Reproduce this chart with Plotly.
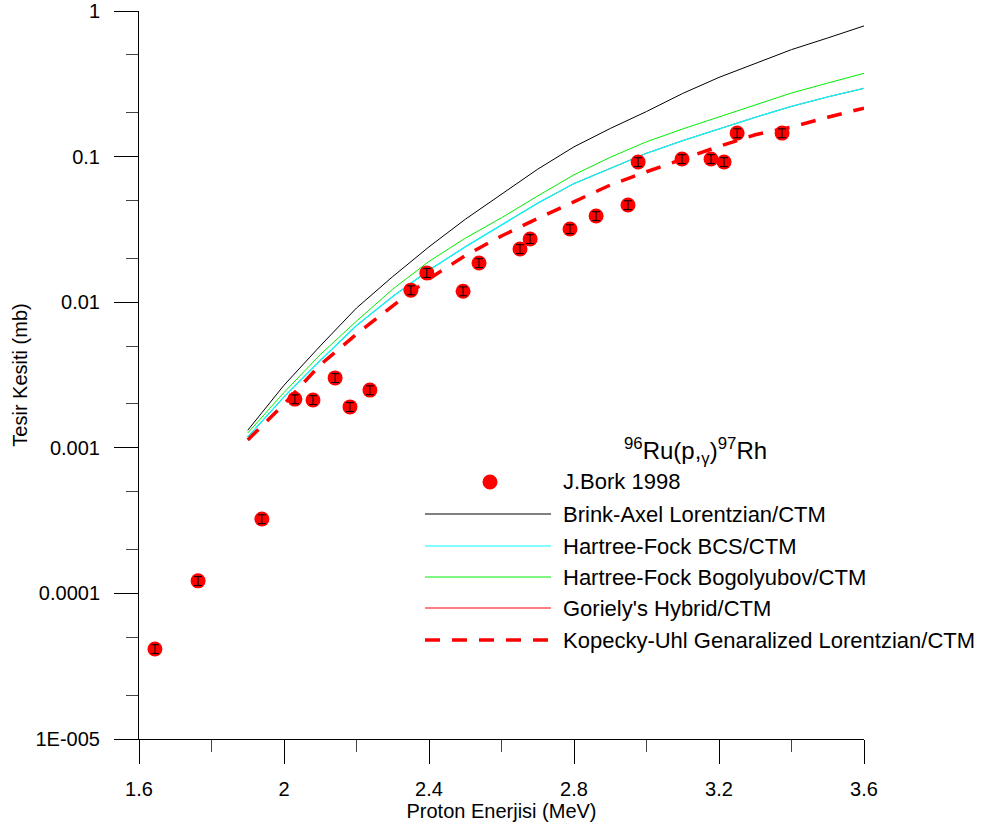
import plotly.graph_objects as go

# ---------------- data ----------------
exp_E = [1.644, 1.763, 1.939, 2.030, 2.080, 2.141, 2.182, 2.237, 2.350, 2.394,
         2.494, 2.538, 2.651, 2.679, 2.789, 2.861, 2.949, 2.977, 3.098, 3.178,
         3.214, 3.250, 3.374]
exp_sigma = [4.15e-5, 1.22e-4, 3.24e-4, 2.16e-3, 2.13e-3, 3.02e-3, 1.91e-3, 2.49e-3,
             0.0121, 0.0159, 0.0119, 0.0186, 0.0232, 0.0272, 0.0318, 0.0391,
             0.0465, 0.0918, 0.0963, 0.0963, 0.0918, 0.145, 0.145]
exp_err_pct = 7

calc_E = [1.9, 2.0, 2.1, 2.2, 2.3, 2.4, 2.5, 2.6, 2.7, 2.8, 2.9, 3.0, 3.1, 3.2,
          3.3, 3.4, 3.5, 3.6]
brink_axel = [1.32e-3, 2.69e-3, 5.01e-3, 9.12e-3, 0.0150, 0.0240, 0.0371, 0.0553,
              0.0820, 0.1167, 0.156, 0.204, 0.2716, 0.350, 0.436, 0.543, 0.653, 0.790]
hf_bcs = [1.186e-3, 2.239e-3, 3.981e-3, 6.92e-3, 0.01096, 0.0166, 0.0240, 0.0339,
          0.0479, 0.0653, 0.0826, 0.1054, 0.1288, 0.1556, 0.1862, 0.2213, 0.2570, 0.2944]
hf_bogolyubov = [1.265e-3, 2.399e-3, 4.365e-3, 7.41e-3, 0.0123, 0.01905, 0.0275, 0.0380,
                 0.0537, 0.0750, 0.0989, 0.1265, 0.1549, 0.1871, 0.2265, 0.2735, 0.3199, 0.3733]
# Goriely's curve is not visible in the picture: it lies under the HF-BCS curve
goriely_hybrid = [1.186e-3, 2.239e-3, 3.981e-3, 6.92e-3, 0.01096, 0.0166, 0.0240, 0.0339,
                  0.0479, 0.0653, 0.0826, 0.1054, 0.1288, 0.1556, 0.1862, 0.2213, 0.2570, 0.2944]
kopecky_uhl = [1.132e-3, 1.995e-3, 3.715e-3, 6.03e-3, 9.44e-3, 0.01445, 0.0209, 0.0285,
               0.0376, 0.0490, 0.0638, 0.0787, 0.0966, 0.1175, 0.1413, 0.1596, 0.1862, 0.2153]

y_tickvals = [1e-5, 1e-4, 1e-3, 1e-2, 1e-1, 1]
y_ticktext = ["1E-005", "0.0001", "0.001", "0.01", "0.1", "1"]
x_tickvals = [1.6, 2.0, 2.4, 2.8, 3.2, 3.6]
x_ticktext = ["1.6", "2", "2.4", "2.8", "3.2", "3.6"]
x_minor = [1.8, 2.2, 2.6, 3.0, 3.4]

legend_title = "<sup>96</sup>Ru(p,<sub>γ</sub>)<sup>97</sup>Rh"
names = ["J.Bork 1998", "Brink-Axel Lorentzian/CTM", "Hartree-Fock BCS/CTM",
         "Hartree-Fock Bogolyubov/CTM", "Goriely's Hybrid/CTM",
         "Kopecky-Uhl Genaralized Lorentzian/CTM"]

FONT = "Arial, Liberation Sans, sans-serif"
DASH = "15px,12px"

fig = go.Figure()

fig.add_trace(go.Scatter(x=calc_E, y=goriely_hybrid, mode="lines", name=names[4],
                         line=dict(color="#ff0000", width=1)))
fig.add_trace(go.Scatter(x=calc_E, y=brink_axel, mode="lines", name=names[1],
                         line=dict(color="#000000", width=1)))
fig.add_trace(go.Scatter(x=calc_E, y=hf_bogolyubov, mode="lines", name=names[3],
                         line=dict(color="#00ee00", width=1)))
fig.add_trace(go.Scatter(x=calc_E, y=hf_bcs, mode="lines", name=names[2],
                         line=dict(color="#00ffff", width=1.3)))
fig.add_trace(go.Scatter(x=calc_E, y=kopecky_uhl, mode="lines", name=names[5],
                         line=dict(color="#ff0000", width=3.5, dash=DASH)))
fig.add_trace(go.Scatter(x=exp_E, y=exp_sigma, mode="markers", name=names[0],
                         marker=dict(color="#ff0000", size=15, line=dict(width=0))))
# error bars drawn on top of the red markers
fig.add_trace(go.Scatter(x=exp_E, y=exp_sigma, mode="markers", name=names[0] + " err",
                         marker=dict(color="rgba(0,0,0,0)", size=1),
                         error_y=dict(type="percent", value=exp_err_pct, color="#000000",
                                      thickness=1, width=4)))

# ---------- custom legend (paper coords) ----------
def px2paper_x(px):
    return (px - 139) / 725.0

def px2paper_y(py):
    return (739 - py) / 728.0

rows_py = [482, 514, 546, 577, 608, 640]
line_styles = [None,
               dict(color="#000000", width=1),
               dict(color="#00ffff", width=1),
               dict(color="#00ee00", width=1),
               dict(color="#ff0000", width=1),
               dict(color="#ff0000", width=3.5, dash=DASH)]

shapes = []
annotations = []
for i, (nm, py) in enumerate(zip(names, rows_py)):
    yp = px2paper_y(py)
    if i == 0:
        shapes.append(dict(type="circle", xref="paper", yref="paper",
                           xsizemode="pixel", ysizemode="pixel",
                           xanchor=px2paper_x(490), yanchor=yp,
                           x0=-7.5, x1=7.5, y0=-7.5, y1=7.5,
                           fillcolor="#ff0000", line=dict(width=0)))
    else:
        shapes.append(dict(type="line", xref="paper", yref="paper",
                           x0=px2paper_x(425), x1=px2paper_x(551), y0=yp, y1=yp,
                           line=line_styles[i]))
    annotations.append(dict(text=nm, xref="paper", yref="paper",
                            x=px2paper_x(561), y=yp, xanchor="left", yanchor="middle",
                            showarrow=False, font=dict(family=FONT, size=22, color="#000")))

annotations.append(dict(text=legend_title, xref="paper", yref="paper",
                        x=px2paper_x(695), y=px2paper_y(451), xanchor="center",
                        yanchor="middle", showarrow=False,
                        font=dict(family=FONT, size=24, color="#000")))

fig.update_layout(
    width=982, height=827,
    margin=dict(l=139, r=118, t=11, b=88, autoexpand=False),
    paper_bgcolor="white", plot_bgcolor="white",
    showlegend=False,
    font=dict(family=FONT, size=20, color="#000"),
    shapes=shapes, annotations=annotations,
    xaxis=dict(range=[1.6, 3.6], tickvals=x_tickvals, ticktext=x_ticktext,
               automargin=False,
               showgrid=False, zeroline=False, showline=True, linecolor="#000",
               linewidth=1, ticks="outside", ticklen=24, tickcolor="#000",
               ticklabelstandoff=8,
               minor=dict(tickvals=x_minor, ticks="outside",
                          ticklen=12, tickcolor="#444", showgrid=False),
               title=dict(text="Proton Enerjisi (MeV)", standoff=0,
                          font=dict(size=20))),
    yaxis=dict(type="log", range=[-5, 0], tickvals=y_tickvals, ticktext=y_ticktext,
               automargin=False,
               showgrid=False, zeroline=False, showline=True, linecolor="#000",
               linewidth=1, ticks="outside", ticklen=24, tickcolor="#000",
               ticklabelstandoff=10,
               minor=dict(ticks="outside", ticklen=12, tickcolor="#444",
                          showgrid=False),
               title=dict(text="Tesir Kesiti (mb)", standoff=2,
                          font=dict(size=20))),
)

fig.write_html("out.html")
